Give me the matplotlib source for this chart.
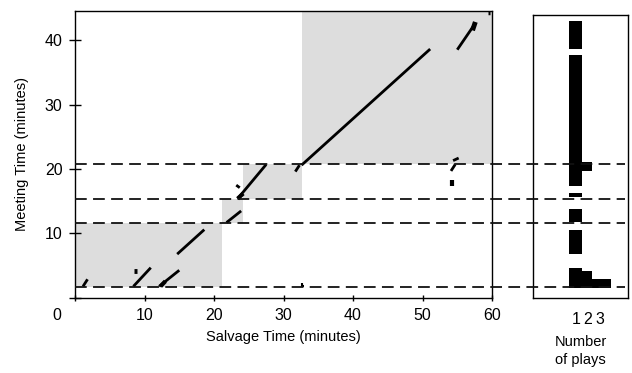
import matplotlib
matplotlib.use('Agg')
import matplotlib.pyplot as plt
from matplotlib.lines import Line2D

plt.rcParams['font.family'] = ['Liberation Sans', 'DejaVu Sans']

# 회색 구간 (salvage 시작, salvage 끝, meeting 시작, meeting 끝)
block_x0 = [0.0, 21.1, 24.1, 32.6]
block_x1 = [21.1, 24.1, 32.6, 60.0]
block_y0 = [1.72, 11.7, 15.4, 20.7]
block_y1 = [11.7, 15.4, 20.7, 44.5]

# 경계선 (meeting time)
cut_y = [1.72, 11.7, 15.4, 20.7]

# 매칭 구간 선분
seg_x0 = [1.15, 8.4, 8.45, 12.1, 12.3, 14.7, 21.8, 23.4, 23.4, 23.2, 31.7, 32.6,
          32.6, 32.6, 54.1, 54.4, 54.2, 55.0, 57.2, 59.4]
seg_y0 = [1.8, 1.8, 4.25, 1.8, 1.8, 6.8, 11.7, 15.4, 15.4, 17.5, 19.6, 20.6,
          1.7, 1.9, 19.7, 21.3, 17.3, 38.5, 41.5, 44.2]
seg_x1 = [1.8, 10.9, 8.95, 15.0, 13.0, 18.6, 23.9, 27.5, 24.2, 23.7, 32.3, 51.1,
          32.6, 32.9, 54.7, 55.2, 54.2, 57.6, 57.6, 59.7]
seg_y1 = [2.9, 4.7, 4.25, 4.3, 2.6, 10.6, 13.5, 20.7, 16.2, 17.1, 20.6, 38.6,
          2.4, 1.9, 20.7, 21.7, 18.3, 42.6, 42.8, 44.2]
seg_w = [2, 2, 3.5, 2, 3, 2, 2, 2, 3, 2, 2, 2, 1.5, 1.5, 2, 2, 3, 2, 3.5, 2.5]

# 재생 횟수 막대 (meeting time 구간, 재생 횟수)
bar_lo = [38.6, 17.5, 19.7, 15.8, 11.9, 6.95, 1.68, 1.68, 1.68]
bar_hi = [42.95, 37.7, 21.2, 16.3, 13.8, 10.7, 4.78, 4.31, 3.07]
bar_play = [1, 1, 2, 1, 1, 1, 1, 2, 3]
play_left = [0.42, 1.5, 2.33]
play_right = [1.5, 2.33, 3.92]

fig = plt.figure(figsize=(6.32, 3.73), dpi=100)
ax = fig.add_axes([0.1187, 0.2011, 0.6598, 0.7694])
ax2 = fig.add_axes([0.8434, 0.2011, 0.1503, 0.7587])

for x0, x1, y0, y1 in zip(block_x0, block_x1, block_y0, block_y1):
    ax.fill_between([x0, x1], y0, y1, color='#dddddd', lw=0, zorder=1)

for x0, y0, x1, y1, w in zip(seg_x0, seg_y0, seg_x1, seg_y1, seg_w):
    ax.plot([x0, x1], [y0, y1], color='black', lw=w, solid_capstyle='butt', zorder=3)

ax.set_xlim(0, 60)
ax.set_ylim(0, 44.5)
ax.set_xticks([0, 10, 20, 30, 40, 50, 60])
ax.set_xticklabels(['', '10', '20', '30', '40', '50', '60'])
ax.set_yticks([0, 10, 20, 30, 40])
ax.set_yticklabels(['', '10', '20', '30', '40'])
ax.tick_params(axis='x', direction='inout', length=5, width=1, pad=4.5, labelsize=11.5)
ax.tick_params(axis='y', direction='inout', length=8, width=1, pad=5, labelsize=11.5)
for s in ax.spines.values():
    s.set_linewidth(1)
ax.annotate('0', xy=(0, 0), xytext=(-13, -7), textcoords='offset points',
            ha='center', va='top', fontsize=11.5, annotation_clip=False)
ax.set_xlabel('Salvage Time (minutes)', fontsize=10.5, labelpad=5)
ax.set_ylabel('Meeting Time (minutes)', fontsize=10.5, labelpad=11)

for lo, hi, p in zip(bar_lo, bar_hi, bar_play):
    ax2.barh((lo + hi) / 2, play_right[p - 1] - play_left[p - 1], height=hi - lo,
             left=play_left[p - 1], color='black', edgecolor='none')
ax2.set_xlim(-2.58, 5.33)
ax2.set_ylim(0.1, 43.9)
ax2.set_xticks([1, 2, 3])
ax2.set_xticklabels(['1', '2', '3'])
ax2.set_yticks([])
ax2.tick_params(axis='x', length=0, pad=10, labelsize=11.5)
for s in ax2.spines.values():
    s.set_linewidth(1)
ax2.set_xlabel('Number\nof plays', fontsize=10.5, labelpad=6, linespacing=1.35)

# 두 패널을 가로지르는 점선
for y in cut_y:
    fig.add_artist(Line2D([0, 79.2], [y, y], transform=ax.transData, color='#111111',
                          lw=1.3, dashes=(6.5, 3.5)))

plt.savefig('out.png', dpi=100)
plt.close()
